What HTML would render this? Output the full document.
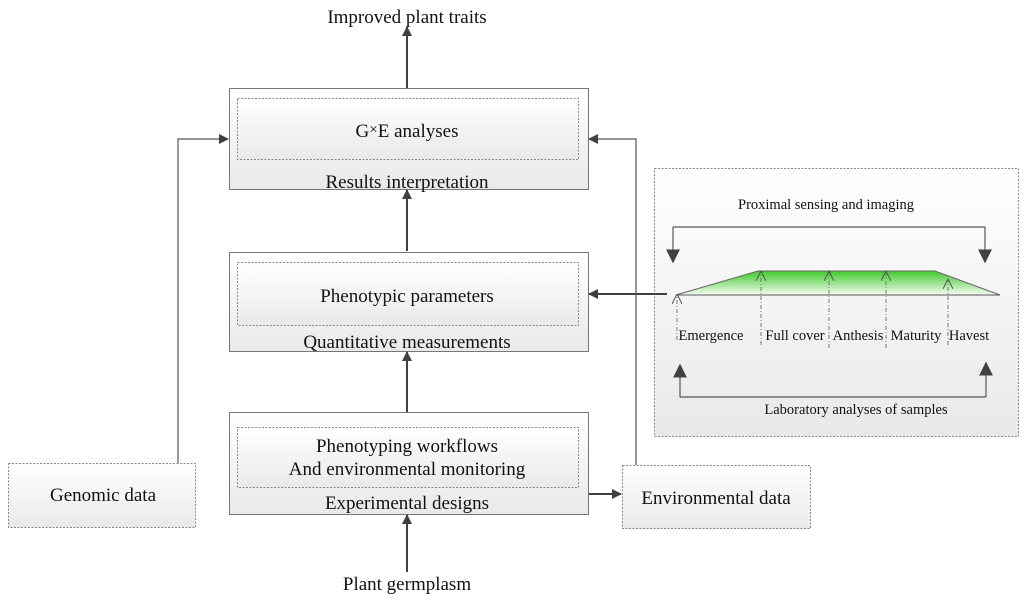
<!DOCTYPE html>
<html><head><meta charset="utf-8"><style>
html,body{margin:0;padding:0;background:#fff;}
svg{display:block;font-family:"Liberation Serif",serif;}
</style></head><body>
<svg width="1024" height="604" viewBox="0 0 1024 604" xmlns="http://www.w3.org/2000/svg">
<defs>
<linearGradient id="bg" x1="0" y1="0" x2="0" y2="1"><stop offset="0" stop-color="#ffffff"/><stop offset="1" stop-color="#e9e9e9"/></linearGradient>
<linearGradient id="gr" x1="0" y1="0" x2="0" y2="1"><stop offset="0" stop-color="#3fca2a"/><stop offset="1" stop-color="#f4fbf2"/></linearGradient>
<marker id="a" viewBox="0 0 10 10" refX="9" refY="5" markerWidth="10" markerHeight="10" markerUnits="userSpaceOnUse" orient="auto"><path d="M0,0L10,5L0,10z" fill="#404040"/></marker>
<marker id="b" viewBox="0 0 10 10" refX="9" refY="5" markerWidth="14" markerHeight="14" markerUnits="userSpaceOnUse" orient="auto"><path d="M0,0L10,5L0,10z" fill="#404040"/></marker>
<marker id="o" viewBox="0 0 10 10" refX="9" refY="5" markerWidth="10" markerHeight="10" markerUnits="userSpaceOnUse" orient="auto"><path d="M0,0L10,5L0,10" fill="none" stroke="#555" stroke-width="1"/></marker>
</defs>
<g stroke="#777" fill="url(#bg)">
<rect x="229.5" y="88.5" width="359" height="101"/>
<rect x="229.5" y="252.5" width="359" height="99"/>
<rect x="229.5" y="412.5" width="359" height="102"/>
</g>
<g stroke="#888" stroke-dasharray="2,1.5" fill="url(#bg)">
<rect x="237.5" y="98.5" width="341" height="61"/>
<rect x="237.5" y="262.5" width="341" height="63"/>
<rect x="237.5" y="427.5" width="341" height="60"/>
<rect x="8.5" y="463.5" width="187" height="64"/>
<rect x="622.5" y="465.5" width="188" height="63"/>
<rect x="654.5" y="168.5" width="364" height="268"/>
</g>
<g stroke="#404040" stroke-width="2" fill="none" marker-end="url(#a)">
<line x1="407" y1="88" x2="407" y2="27"/>
<line x1="407" y1="251" x2="407" y2="190"/>
<line x1="407" y1="412" x2="407" y2="352"/>
<line x1="407" y1="572" x2="407" y2="515"/>
<line x1="589" y1="494" x2="621" y2="494"/>
<line x1="667" y1="294" x2="589" y2="294"/>
</g>
<g stroke="#555" stroke-width="1.2" fill="none" marker-end="url(#a)">
<polyline points="178,463 178,139 228,139"/>
<polyline points="636,465 636,139 589,139"/>
</g>
<g stroke="#555" stroke-width="1.2" fill="none">
<polyline points="673,227 985,227"/>
<polyline points="680,397 986,397"/>
</g>
<g stroke="#555" stroke-width="1.2" fill="none" marker-end="url(#b)">
<line x1="673" y1="227" x2="673" y2="262"/>
<line x1="985" y1="227" x2="985" y2="262"/>
<line x1="680" y1="397" x2="680" y2="365"/>
<line x1="986" y1="397" x2="986" y2="363"/>
</g>
<path d="M676,295 L758,271 L935,271 L1000,295 Z" fill="url(#gr)" stroke="#666" stroke-width="1"/>
<line x1="676" y1="295" x2="1000" y2="295" stroke="#555"/>
<g stroke="#777" stroke-dasharray="4,2,1,2" fill="none" marker-end="url(#o)">
<line x1="677" y1="340" x2="677" y2="295"/>
<line x1="761" y1="345" x2="761" y2="272"/>
<line x1="829" y1="348" x2="829" y2="272"/>
<line x1="886" y1="348" x2="886" y2="272"/>
<line x1="948" y1="345" x2="948" y2="280"/>
</g>
<g fill="#111" font-size="19" text-anchor="middle">
<text x="407" y="23">Improved plant traits</text>
<text x="407" y="137">G<tspan font-size="15" dy="-3">×</tspan><tspan dy="3">E analyses</tspan></text>
<text x="407" y="188">Results interpretation</text>
<text x="407" y="302">Phenotypic parameters</text>
<text x="407" y="348">Quantitative measurements</text>
<text x="407" y="452">Phenotyping workflows</text>
<text x="407" y="475">And environmental monitoring</text>
<text x="407" y="509">Experimental designs</text>
<text x="103" y="501">Genomic data</text>
<text x="716" y="504">Environmental data</text>
<text x="407" y="590">Plant germplasm</text>
</g>
<g fill="#111" font-size="14.5" text-anchor="middle">
<text x="826" y="209">Proximal sensing and imaging</text>
<text x="711" y="340">Emergence</text>
<text x="795" y="340">Full cover</text>
<text x="858" y="340">Anthesis</text>
<text x="916" y="340">Maturity</text>
<text x="969" y="340">Havest</text>
<text x="856" y="414">Laboratory analyses of samples</text>
</g>
</svg>
</body></html>
